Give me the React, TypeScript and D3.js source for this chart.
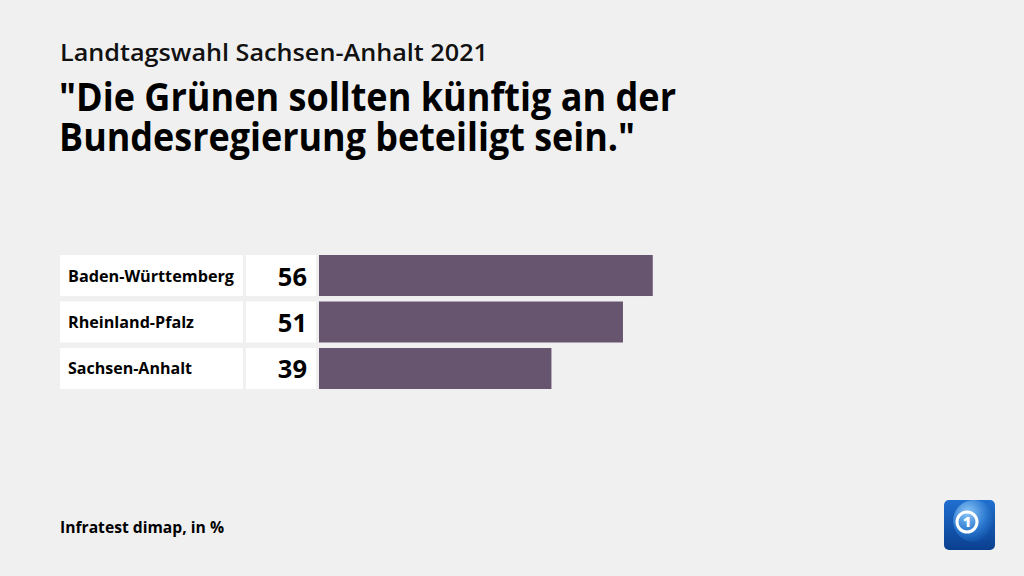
import React from 'react';
import * as d3 from 'd3';

const categories = ['Baden-Württemberg', 'Rheinland-Pfalz', 'Sachsen-Anhalt'];
const values = [56, 51, 39];
// measured label widths in the reference
const labelWidths = [166, 126, 124];

const subtitle = 'Landtagswahl Sachsen-Anhalt 2021';
const titleLines = ['"Die Grünen sollten künftig an der', 'Bundesregierung beteiligt sein."'];
const titleWidths = [617, 576];
const source = 'Infratest dimap, in %';

const FONT = '"Open Sans", Lato, sans-serif';

const App = () => {
  const width = 1024;
  const height = 576;

  // bar scale: 0 starts right after the value box
  const x = d3.scaleLinear().domain([0, 100]).range([319, 915]);
  const y = d3.scaleBand<string>()
    .domain(categories)
    .range([255, 389])
    .paddingInner(0.118)
    .paddingOuter(0);
  const bw = y.bandwidth();

  return (
    <svg width={width} height={height} style={{ position: 'absolute', left: 0, top: 0 }}
      fontFamily={FONT}>
      <rect width={width} height={height} fill="#f0f0f0" />

      <text x={60} y={61} fontSize={24} fontWeight={600} fill="#111"
        textLength={428} lengthAdjust="spacingAndGlyphs">{subtitle}</text>
      <text fontSize={39} fontWeight={700} fill="#000">
        {titleLines.map((t, i) => (
          <tspan key={i} x={59} y={111 + i * 39.5} textLength={titleWidths[i]}
            lengthAdjust="spacingAndGlyphs">{t}</tspan>
        ))}
      </text>

      {categories.map((c, i) => {
        const top = y(c) as number;
        return (
          <g key={c}>
            <rect x={60} y={top} width={183} height={bw} fill="#ffffff" />
            <rect x={246} y={top} width={70} height={bw} fill="#ffffff" />
            <text x={68} y={top + 26.5} fontSize={15.5} fontWeight={700} fill="#000"
              textLength={labelWidths[i]} lengthAdjust="spacingAndGlyphs">{c}</text>
            <text x={307} y={top + 30.5} fontSize={25.5} fontWeight={700} fill="#000"
              textAnchor="end">{values[i]}</text>
            <rect x={x(0)} y={top} width={x(values[i]) - x(0)} height={bw} fill="#67546f" />
          </g>
        );
      })}

      <text x={60} y={533} fontSize={15.5} fontWeight={700} fill="#000"
        textLength={164} lengthAdjust="spacingAndGlyphs">{source}</text>

      {/* broadcaster logo */}
      <defs>
        <linearGradient id="logoBg" x1="0" y1="0" x2="0" y2="1">
          <stop offset="0" stopColor="#1f6fd0" />
          <stop offset="1" stopColor="#0a3f8f" />
        </linearGradient>
        <radialGradient id="globe" cx="0.35" cy="0.3" r="0.75">
          <stop offset="0" stopColor="#8cc6f7" />
          <stop offset="0.6" stopColor="#2a78d0" />
          <stop offset="1" stopColor="#0d4aa0" />
        </radialGradient>
        <clipPath id="logoClip">
          <rect x={944} y={500} width={51} height={50} rx={5} />
        </clipPath>
      </defs>
      <rect x={944} y={500} width={51} height={50} rx={5} fill="url(#logoBg)" />
      <g clipPath="url(#logoClip)">
        <circle cx={974} cy={521} r={21} fill="url(#globe)" />
      </g>
      <circle cx={967} cy={522} r={10} fill="none" stroke="#ffffff" strokeWidth={3} />
      <text x={967} y={522} dy="0.36em" textAnchor="middle" fontSize={14} fontWeight={800} fill="#ffffff">1</text>
    </svg>
  );
};

export default App;
